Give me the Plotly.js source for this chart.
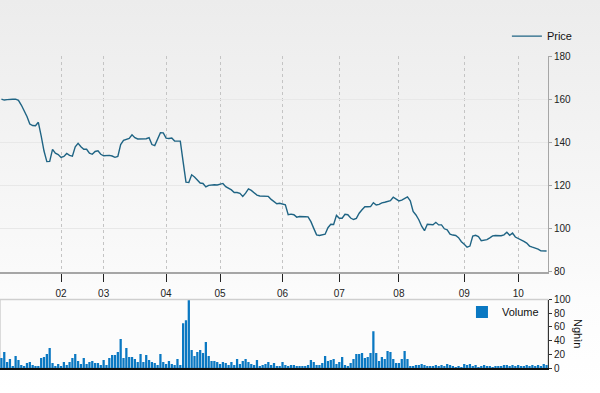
<!DOCTYPE html>
<html>
<head>
<meta charset="utf-8">
<script src="https://cdn.plot.ly/plotly-3.0.1.min.js"></script>
<style>html,body{margin:0;padding:0;background:#fff;}#chart{width:600px;height:393px;}</style>
</head>
<body>
<div id="chart"></div>
<script>
// Month tick labels and the trading-day index where each month starts
const monthLabels = ['02','03','04','05','06','07','08','09','10'];
const monthStartIdx = [21, 36, 58, 77, 99, 119, 140, 163, 182];

// Daily closing price
const price = [
160,159.6,159.8,160,160,160,159.5,157.3,155,152,148.5,147.8,147.7,149.3,143,136,131.1,131.2,136.8,135,
134.4,133,133.5,134.9,134,133.6,138,139.6,138,136.8,136.8,135,134.5,135.8,136.1,134.5,133.8,133.9,
134,133.7,133.1,133.5,139,140.9,141.3,141.8,143.5,142.2,141.6,141.6,141.9,141.7,142.2,139,138.5,141.2,
144.5,144.4,142,141.8,142,140.6,140.6,140.6,131,121.6,121.4,125,124,122.5,121.2,121,119.4,120.1,120.4,
120.4,120.3,120.6,121,119.5,118.8,118,116.8,116.8,116.4,115,116.5,118.5,117.8,116.8,115.6,115.2,115.2,
115.2,
115,113.6,112.5,111.6,111.8,111.5,111.1,106.5,106.8,106.5,105.4,105.7,105.8,105.6,105.5,103.3,100.2,
97.2,96.9,97.1,97.5,100.5,102.1,102,106.2,104.9,104.9,106.7,106.5,105,104.3,104.8,107.2,108.8,110.2,
110.2,110.3,112.1,111,111.3,112,112.3,112.6,113,114.6,113.8,112.9,113.3,114.2,114.8,113,108,106.4,104.2,
101.2,99.1,102.1,102,101.9,103,101.8,101.8,100,99.5,97.5,97.1,96.9,95.9,94,92.8,91.5,92,96.6,97,96.4,
94.5,94.6,95,95.8,96.7,96.9,
96.85,
96.8,97.2,98.4,97,98,96.2,95.6,95,94.2,93.4,92,91.5,91.1,90.6,89.8,89.7,89.7
];

// Daily volume (thousands)
const volume = [
14.6,23.3,8.7,13.1,2.9,17.5,11.6,4.4,2.9,7.3,8.7,4.4,2.9,2.9,14.6,16,20.4,29.1,7.3,2.9,
5.8,2.9,8.7,4.4,8.7,14.6,20.4,10.2,5.8,14.6,5.8,8.7,10.2,7.3,7.3,4.4,11.6,4.4,14.6,18.9,
18.9,23.3,42.2,14.6,29.1,16,16,13.1,8.7,20.4,8.7,18.9,11.6,8.7,7.3,4.4,20.4,8.7,5.8,10.2,
5.8,4.4,13.1,
4.4,65.5,69.8,99,26.2,17.5,23.3,26.2,21.8,37.8,17.5,10.2,10.2,8.7,5.8,8.7,7.3,4.4,8.7,4.4,
13.1,5.8,10.2,13.1,8.7,5.8,4.4,11.6,2.9,4.4,5.8,8.7,4.4,7.3,2.9,2.9,8.7,4.4,2.9,4.4,
4.4,2.9,2.9,2.9,2.9,4.4,11.6,8.7,4.4,4.4,7.3,17.5,10.2,11.6,13.1,5.8,8.7,16,4.4,2.9,
7.3,13.1,20.4,20.4,21.8,
14.6,16,21.8,53.8,21.8,10.2,16,13.1,24.7,23.3,13.1,7.3,7.3,13.1,24.7,13.1,2.9,2.9,4.4,4.4,
5.8,4.4,2.9,2.9,2.9,4.4,2.9,4.4,2.9,5.8,4.4,2.9,1.5,2.9,1.5,5.8,4.4,5.8,2.9,4.4,
1.5,2.9,4.4,2.9,2.9,1.5,2.9,2.9,2.9,4.4,4.4,2.9,4.4,2.9,4.4,2.9,2.9,4.4,2.9,4.4,
2.9,4.4,2.9,5.8,4.4
];

const dayIdx = price.map((_, i) => i);
const volIdx = volume.map((_, i) => i);
const n = Math.max(price.length, volume.length);

const font = 'Liberation Sans, Arial, sans-serif';

const gradSvg = "<svg xmlns='http://www.w3.org/2000/svg' width='600' height='393'>" +
  "<defs><linearGradient id='g' x1='0' y1='0' x2='0' y2='1'>" +
  "<stop offset='0' stop-color='#ececec'/><stop offset='0.69' stop-color='#fafafa'/>" +
  "<stop offset='0.76' stop-color='#fcfcfc'/><stop offset='1' stop-color='#ffffff'/>" +
  "</linearGradient></defs><rect width='600' height='393' fill='url(#g)'/></svg>";
const gradUri = 'data:image/svg+xml;charset=utf-8,' + encodeURIComponent(gradSvg);

const traces = [
  {
    type: 'scatter', mode: 'lines', name: 'Price',
    x: dayIdx, y: price, xaxis: 'x', yaxis: 'y',
    line: {color: '#1f6484', width: 1.4},
    showlegend: true, legend: 'legend', hoverinfo: 'skip'
  },
  {
    type: 'bar', name: 'Volume',
    x: volIdx, y: volume, xaxis: 'x2', yaxis: 'y2',
    marker: {color: '#0a78c2', line: {width: 0}},
    showlegend: true, legend: 'legend2', hoverinfo: 'skip'
  }
];

const layout = {
  width: 600, height: 393,
  margin: {l: 0, r: 52, t: 0, b: 0, pad: 0},
  paper_bgcolor: '#ffffff',
  plot_bgcolor: 'rgba(0,0,0,0)',
  font: {family: font, size: 10, color: '#222'},
  bargap: 0.2,
  hovermode: false,
  showlegend: true,
  images: [{
    source: gradUri, xref: 'paper', yref: 'paper',
    x: 0, y: 1, sizex: 600/548, sizey: 1,
    sizing: 'stretch', xanchor: 'left', yanchor: 'top', layer: 'below'
  }],
  xaxis: {
    domain: [0, 1], anchor: 'y',
    range: [-0.5, n - 0.5],
    tickmode: 'array', tickvals: monthStartIdx, ticktext: monthLabels,
    showgrid: true, gridcolor: '#c4c4c4', griddash: '3px,3px', gridwidth: 1,
    showline: true, linecolor: '#a6a6a6', linewidth: 2,
    ticks: 'outside', ticklen: 8, tickcolor: '#222', tickwidth: 1,
    ticklabelstandoff: 3,
    tickfont: {family: font, size: 10, color: '#222'},
    zeroline: false, fixedrange: true
  },
  yaxis: {
    domain: [0.3079, 0.8575], anchor: 'x', side: 'right',
    range: [80, 180], tick0: 80, dtick: 20,
    showgrid: true, gridcolor: '#e8e8e8', gridwidth: 1,
    showline: true, linecolor: '#a6a6a6', linewidth: 1,
    ticks: 'outside', ticklen: 3, tickcolor: '#a6a6a6',
    tickfont: {family: font, size: 10, color: '#222'},
    zeroline: false, fixedrange: true
  },
  xaxis2: {
    domain: [0, 1], anchor: 'y2', matches: 'x',
    range: [-0.5, n - 0.5],
    showticklabels: false, showgrid: false, ticks: '',
    showline: true, linecolor: '#111', linewidth: 2,
    zeroline: false, fixedrange: true
  },
  yaxis2: {
    domain: [0.0636, 0.2379], anchor: 'x2', side: 'right',
    range: [0, 100], tick0: 0, dtick: 20,
    showgrid: false,
    showline: true, linecolor: '#333', linewidth: 1,
    ticks: 'outside', ticklen: 3, tickcolor: '#333',
    tickfont: {family: font, size: 10, color: '#222'},
    zeroline: false, fixedrange: true
  },
  shapes: [{
    type: 'rect', xref: 'x2 domain', yref: 'y2 domain',
    x0: 0, x1: 1, y0: 0, y1: 1,
    line: {color: '#cfcfcf', width: 1.5}, fillcolor: '#fcfcfc', layer: 'below'
  }],
  legend: {
    visible: true,
    x: 0.925, y: 0.908, xanchor: 'left', yanchor: 'middle',
    bgcolor: 'rgba(0,0,0,0)', borderwidth: 0,
    font: {family: font, size: 11, color: '#111'}
  },
  legend2: {
    visible: true,
    x: 0.843, y: 0.206, xanchor: 'left', yanchor: 'middle',
    bgcolor: 'rgba(0,0,0,0)', borderwidth: 0,
    font: {family: font, size: 11, color: '#111'}
  },
  annotations: [{
    text: 'Nghìn', xref: 'paper', yref: 'paper',
    x: 578/548, y: 0.1527, xanchor: 'center', yanchor: 'middle',
    textangle: 90, showarrow: false,
    font: {family: font, size: 11, color: '#111'}
  }]
};

Plotly.newPlot('chart', traces, layout, {displayModeBar: false, staticPlot: true});
</script>
</body>
</html>
